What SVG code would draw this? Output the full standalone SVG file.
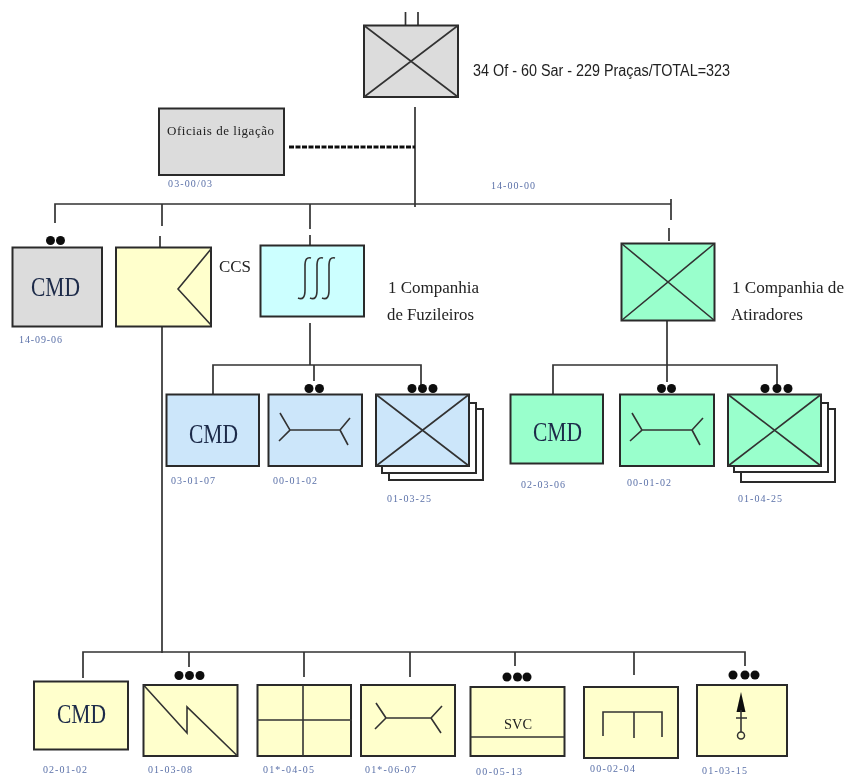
<svg xmlns="http://www.w3.org/2000/svg" width="847" height="776" viewBox="0 0 847 776">
<defs>
<filter id="soft" x="-2%" y="-2%" width="104%" height="104%"><feGaussianBlur stdDeviation="0.7"/></filter>
</defs>
<style>
.b{stroke:#2b2b2b;stroke-width:2}
.g{fill:#dcdcdc}.y{fill:#ffffcc}.c{fill:#ccffff}.m{fill:#99ffcc}.l{fill:#cce6fa}
.s{fill:none;stroke:#2b2b2b;stroke-width:2}
.t{fill:none;stroke:#333;stroke-width:1.6}
.d{fill:#111;stroke:none}
.n{font-family:"Liberation Serif",serif;font-size:10px;fill:#5a70a8}
.v{font-family:"Liberation Serif",serif;font-size:16px;fill:#222}
.k{font-family:"Liberation Serif",serif;font-size:27px;fill:#1c2a48}
</style>
<rect width="847" height="776" fill="#fff"/>
<g filter="url(#soft)">
<g id="connectors" fill="none" stroke="#333" stroke-width="1.7">
<path d="M405.500 12V25M418 12V25M415 107V207"/>
<path d="M289 147H415" stroke="#111" stroke-width="3" stroke-dasharray="5 1.500"/>
<path d="M55 223V204H671M671 199V220M669 228V241M162 204V226M160 236V250M310 204V229M310 235V245"/>
<path d="M310 323V365M213 394V365H421V385M314 365V381"/>
<path d="M667 321V382M553 394V365H777V385"/>
<path d="M162 327V653M83 678V652H745V666M189 652V667M304 652V677M410 652V677M515 652V666M634 652V675"/>
</g>
<g id="node-top"><rect class="g b" x="364" y="25.500" width="94" height="71.500"/><path class="t" d="M364 25.500L458 97M458 25.500L364 97"/>
<text x="473" y="76" font-family="Liberation Sans,sans-serif" font-size="16" fill="#222" textLength="257" lengthAdjust="spacingAndGlyphs">34 Of - 60 Sar - 229 Praças/TOTAL=323</text></g>
<g id="node-oficiais"><rect class="g b" x="159" y="108.500" width="125" height="66.500"/><text x="167" y="135" class="v" style="font-size:13px" textLength="107" lengthAdjust="spacing">Oficiais  de ligação</text></g>
<text x="168" y="187" class="n" textLength="44">03-00/03</text>
<text x="491" y="189" class="n" textLength="44">14-00-00</text>
<g id="node-cmd-grey"><rect class="g b" x="12.500" y="247.500" width="89.500" height="79"/><text x="31" y="296" class="k" textLength="49" lengthAdjust="spacingAndGlyphs">CMD</text><circle class="d" cx="50.500" cy="240.500" r="4.500"/><circle class="d" cx="60.500" cy="240.500" r="4.500"/></g>
<text x="19" y="343" class="n" textLength="43">14-09-06</text>
<g id="node-ccs"><rect class="y b" x="116" y="247.500" width="95" height="79"/><path class="t" d="M211 249L178 289L211 325"/><text x="219" y="272" class="v" textLength="32" lengthAdjust="spacingAndGlyphs">CCS</text></g>
<g id="node-fuzileiros"><rect class="c b" x="260.500" y="245.500" width="103.500" height="71"/>
<path class="t" d="M298 298C303 300 305 297 305 290V266C305 259 307 257 311 258M310 298C315 300 317 297 317 290V266C317 259 319 257 323 258M322 298C327 300 329 297 329 290V266C329 259 331 257 335 258"/>
<text x="388" y="293" class="v" textLength="91" lengthAdjust="spacingAndGlyphs">1 Companhia</text><text x="387" y="320" class="v" textLength="87" lengthAdjust="spacingAndGlyphs">de Fuzileiros</text></g>
<g id="node-atiradores"><rect class="m b" x="621.500" y="243.500" width="93" height="77"/><path class="t" d="M621.500 243.500L714.500 320.500M714.500 243.500L621.500 320.500"/>
<text x="732" y="293" class="v" textLength="112" lengthAdjust="spacingAndGlyphs">1 Companhia de</text><text x="731" y="320" class="v" textLength="72" lengthAdjust="spacingAndGlyphs">Atiradores</text></g>

<g id="node-fuz-cmd"><rect class="l b" x="166.500" y="394.500" width="92.500" height="71.500"/><text x="189" y="443" class="k" textLength="49" lengthAdjust="spacingAndGlyphs">CMD</text></g>
<text x="171" y="484" class="n" textLength="44">03-01-07</text>
<g id="node-fuz-rec"><rect class="l b" x="268.500" y="394.500" width="93.500" height="71.500"/><path class="t" d="M280 413L290 430L279 441M290 430H340M340 430L350 418M340 430L348 445"/><circle class="d" cx="309" cy="388.500" r="4.500"/><circle class="d" cx="319.500" cy="388.500" r="4.500"/></g>
<text x="273" y="484" class="n" textLength="44">00-01-02</text>
<g id="node-fuz-pel"><path class="s" d="M469 403H476V473H382V466"/><path class="s" d="M476 409H483V480H389V473"/><rect class="l b" x="376" y="394.500" width="93" height="71.500"/><path class="t" d="M376 394.500L469 466M469 394.500L376 466"/><circle class="d" cx="412" cy="388.500" r="4.500"/><circle class="d" cx="422.500" cy="388.500" r="4.500"/><circle class="d" cx="433" cy="388.500" r="4.500"/></g>
<text x="387" y="502" class="n" textLength="44">01-03-25</text>

<g id="node-ati-cmd"><rect class="m b" x="510.500" y="394.500" width="92.500" height="69"/><text x="533" y="441" class="k" textLength="49" lengthAdjust="spacingAndGlyphs">CMD</text></g>
<text x="521" y="488" class="n" textLength="44">02-03-06</text>
<g id="node-ati-rec"><rect class="m b" x="620" y="394.500" width="94" height="71.500"/><path class="t" d="M632 413L642 430L630 441M642 430H692M692 430L703 418M692 430L700 445"/><circle class="d" cx="661.500" cy="388.500" r="4.500"/><circle class="d" cx="671.500" cy="388.500" r="4.500"/></g>
<text x="627" y="486" class="n" textLength="44">00-01-02</text>
<g id="node-ati-pel"><path class="s" d="M821 403H828V472H734V466"/><path class="s" d="M828 409H835V482H741V472"/><rect class="m b" x="728" y="394.500" width="93" height="71.500"/><path class="t" d="M728 394.500L821 466M821 394.500L728 466"/><circle class="d" cx="765" cy="388.500" r="4.500"/><circle class="d" cx="777" cy="388.500" r="4.500"/><circle class="d" cx="788" cy="388.500" r="4.500"/></g>
<text x="738" y="502" class="n" textLength="44">01-04-25</text>

<g id="node-b-cmd"><rect class="y b" x="34" y="681.500" width="94" height="68"/><text x="57" y="723" class="k" textLength="49" lengthAdjust="spacingAndGlyphs">CMD</text></g>
<text x="43" y="773" class="n" textLength="44">02-01-02</text>
<g id="node-b-com"><rect class="y b" x="143.500" y="685" width="94" height="71"/><path class="t" d="M143.500 685L187 733V707L237.500 756"/><circle class="d" cx="179" cy="675.500" r="4.500"/><circle class="d" cx="189.500" cy="675.500" r="4.500"/><circle class="d" cx="200" cy="675.500" r="4.500"/></g>
<text x="148" y="773" class="n" textLength="44">01-03-08</text>
<g id="node-b-grid"><rect class="y b" x="257.500" y="685" width="93.500" height="71"/><path class="t" d="M257 720H352M303 685V756"/></g>
<text x="263" y="773" class="n" textLength="51">01*-04-05</text>
<g id="node-b-rec"><rect class="y b" x="361" y="685" width="94" height="71"/><path class="t" d="M376 703L386 718L375 729M386 718H431M431 718L442 706M431 718L441 733"/></g>
<text x="365" y="773" class="n" textLength="51">01*-06-07</text>
<g id="node-b-svc"><rect class="y b" x="470.500" y="687" width="94" height="69"/><path class="t" d="M470.500 737H564.500"/><text x="504" y="729" class="v" style="font-size:14px" textLength="28" lengthAdjust="spacingAndGlyphs">SVC</text><circle class="d" cx="507" cy="677" r="4.500"/><circle class="d" cx="517.500" cy="677" r="4.500"/><circle class="d" cx="527" cy="677" r="4.500"/></g>
<text x="476" y="775" class="n" textLength="46">00-05-13</text>
<g id="node-b-mnt"><rect class="y b" x="584" y="687" width="94" height="71"/><path class="t" d="M603 736V712H662V737M634 712V738"/></g>
<text x="590" y="772" class="n" textLength="45">00-02-04</text>
<g id="node-b-ind"><rect class="y b" x="697" y="685" width="90" height="71"/><path class="d" d="M741 692L745.500 712H736.500Z"/><path class="t" d="M741 710V732M736 718H747" stroke-width="2"/><circle cx="741" cy="735.500" r="3.500" fill="none" stroke="#333" stroke-width="1.500"/><circle class="d" cx="733" cy="675" r="4.500"/><circle class="d" cx="745" cy="675" r="4.500"/><circle class="d" cx="755" cy="675" r="4.500"/></g>
<text x="702" y="774" class="n" textLength="45">01-03-15</text>
</g>
</svg>
